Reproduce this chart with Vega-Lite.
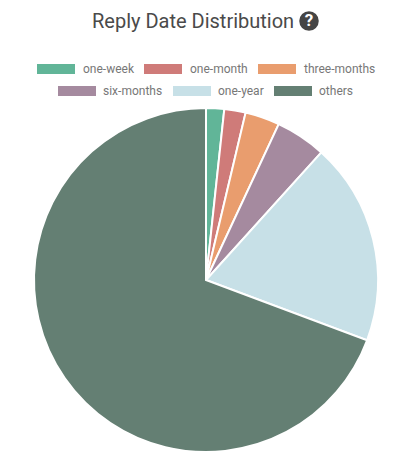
{
"$schema":"https://vega.github.io/schema/vega-lite/v6.json",
"width":344,"height":344,
"autosize":{"type":"none"},
"padding":{"left":34,"top":108,"right":29,"bottom":15},
"background":"white",
"title":{"text":"Reply Date Distribution","font":"Roboto","fontSize":20,"fontWeight":"normal","color":"#4a4a4a","anchor":"start","frame":"group","dx":58,"dy":21,"offset":0},
"config":{"view":{"stroke":null}},
"data":{"values":[
{"category":"one-week","rank":1,"share":1.7},
{"category":"one-month","rank":2,"share":2.0},
{"category":"three-months","rank":3,"share":3.25},
{"category":"six-months","rank":4,"share":4.75},
{"category":"one-year","rank":5,"share":19.0},
{"category":"others","rank":6,"share":69.3}
]},
"transform":[{"stack":"share","sort":[{"field":"rank","order":"ascending"}],"groupby":[],"as":["s0","s1"]}],
"layer":[
{"transform":[{"filter":"datum.rank<=3"}],
"mark":{"type":"arc","stroke":"white","strokeWidth":2},
"encoding":{
"theta":{"field":"s0","type":"quantitative","scale":{"domain":[0,100]}},
"theta2":{"field":"s1"},
"color":{"field":"category","type":"nominal","scale":{"domain":["one-week","one-month","three-months"],"range":["#61b598","#cf7b79","#e99d6e"]},
"legend":{"title":null,"orient":"none","direction":"horizontal","columns":3,"legendX":3,"legendY":-58,"symbolType":"M-1,-0.26H1V0.26H-1Z","symbolSize":1444,"symbolStrokeWidth":0,"symbolOpacity":1,"labelFont":"Roboto","labelFontSize":12,"labelColor":"#777777","labelOffset":8,"columnPadding":10,"padding":0}}
}},
{"transform":[{"filter":"datum.rank>3"}],
"mark":{"type":"arc","stroke":"white","strokeWidth":2},
"encoding":{
"theta":{"field":"s0","type":"quantitative","scale":{"domain":[0,100]}},
"theta2":{"field":"s1"},
"color":{"field":"category","type":"nominal","scale":{"domain":["six-months","one-year","others"],"range":["#a58a9f","#c7e0e7","#647f73"]},
"legend":{"title":null,"orient":"none","direction":"horizontal","columns":3,"legendX":24,"legendY":-36,"symbolType":"M-1,-0.26H1V0.26H-1Z","symbolSize":1444,"symbolStrokeWidth":0,"symbolOpacity":1,"labelFont":"Roboto","labelFontSize":12,"labelColor":"#777777","labelOffset":7,"columnPadding":10,"padding":0}}
}},
{"transform":[{"filter":"datum.rank==1"}],
"mark":{"type":"point","filled":true,"shape":"circle","size":380,"color":"#454545","opacity":1,"x":275,"y":-87},
"encoding":{}},
{"transform":[{"filter":"datum.rank==1"}],
"mark":{"type":"text","text":"?","font":"Roboto","fontWeight":"bold","fontSize":17,"color":"white","x":275,"y":-87,"align":"center","baseline":"middle"},
"encoding":{}}
],
"resolve":{"scale":{"color":"independent","theta":"shared"},"legend":{"color":"independent"}}
}
